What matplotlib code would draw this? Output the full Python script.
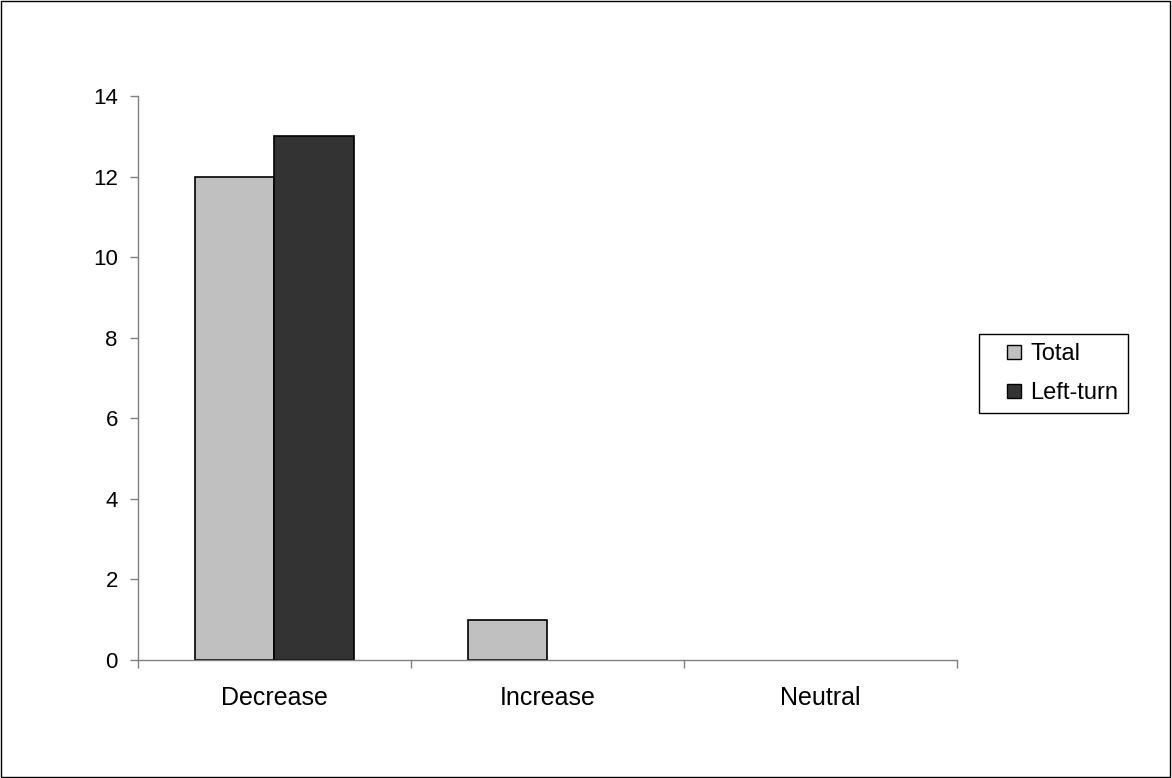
import numpy as np
import matplotlib.pyplot as plt
from matplotlib.patches import Rectangle
from matplotlib.lines import Line2D

categories = ['Decrease', 'Increase', 'Neutral']
total = [12, 1, 0]
left_turn = [13, 0, 0]
series_names = ['Total', 'Left-turn']
series_colors = ['#c0c0c0', '#333333']

plt.rcParams['font.family'] = ['Liberation Sans', 'DejaVu Sans']

fig = plt.figure(figsize=(11.72, 7.78), dpi=100)
ax = fig.add_axes([0.1177, 0.1517, 0.6988, 0.7249])

x = np.arange(len(categories))
w = 0.29
b1 = ax.bar(x - w / 2, total, w, color=series_colors[0], edgecolor='black', linewidth=1.2)
b2 = ax.bar(x + w / 2, left_turn, w, color=series_colors[1], edgecolor='black', linewidth=1.2)
# zero-height bars should not show an outline
for p in list(b1) + list(b2):
    if p.get_height() == 0:
        p.set_visible(False)

ax.set_xlim(-0.5, 2.5)
ax.set_ylim(0, 14)
ax.set_yticks(range(0, 15, 2))
ax.set_xticks(x)
ax.set_xticklabels(categories)
ax.set_xticks([-0.5, 0.5, 1.5, 2.5], minor=True)
ax.tick_params(axis='x', which='major', length=0, pad=19, labelsize=18)
ax.tick_params(axis='x', which='minor', length=6, color='#808080', width=1)
ax.tick_params(axis='y', length=6, color='#808080', width=1, labelsize=16, pad=8.5)

for s in ['top', 'right']:
    ax.spines[s].set_visible(False)
for s in ['left', 'bottom']:
    ax.spines[s].set_color('#808080')
    ax.spines[s].set_linewidth(1)

handles = [Line2D([], [], linestyle='none', marker='s', markersize=10.5,
                  markerfacecolor=c, markeredgecolor='black', markeredgewidth=1)
           for c in series_colors]
leg = ax.legend(handles, series_names, loc='upper left', bbox_to_anchor=(0.8353, 0.5707),
                bbox_transform=fig.transFigure,
                fancybox=False, framealpha=1, edgecolor='black', fontsize=17,
                handlelength=2.15, handletextpad=-0.375, borderpad=0.4,
                labelspacing=0.7, borderaxespad=0)
leg.get_frame().set_linewidth(1)

fig.patches.append(Rectangle((0.0005, 0.001), 0.998, 0.998, transform=fig.transFigure,
                             fill=False, edgecolor='black', linewidth=1))

fig.savefig('out.png', dpi=100)
